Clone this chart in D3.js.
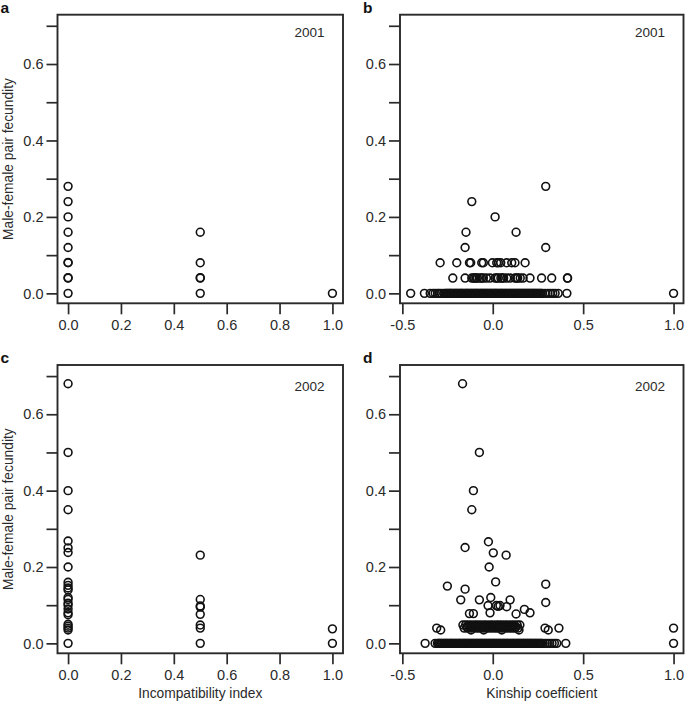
<!DOCTYPE html>
<html><head><meta charset="utf-8">
<script src="https://cdn.jsdelivr.net/npm/d3@7"></script>
<style>body{margin:0;background:#fff}svg{display:block;font-family:"Liberation Sans",Arial,sans-serif}</style>
</head><body>
<svg id="chart" width="685" height="704"></svg>
<script>
// ---------- data ----------
const yTicks = [0, 0.1, 0.2, 0.3, 0.4, 0.5, 0.6, 0.7];
const yTickLabels = [0, 0.2, 0.4, 0.6];
const incompTicks = [0, 0.2, 0.4, 0.6, 0.8, 1.0];
const kinTicks = [-0.5, 0, 0.5, 1.0];
const panelLetters = ["a", "b", "c", "d"];
const years = ["2001", "2001", "2002", "2002"];
const xTitles = ["Incompatibility index", "Kinship coefficient"];
const yTitle = "Male-female pair fecundity";

// Panel a: 2001, incompatibility index
const incomp2001 = [0, 0, 0, 0, 0, 0, 0, 0, 0, 0, 0.5, 0.5, 0.5, 0.5, 0.5, 1.0];
const fecA2001   = [0.28, 0.24, 0.20, 0.16, 0.12, 0.08, 0.081, 0.04, 0.041, 0, 0.16, 0.08, 0.04, 0.041, 0, 0];

// Panel c: 2002, incompatibility index
const incomp2002 = [0,0,0,0,0,0,0,0,0,0,0,0,0,0,0,0,0,0,0,0,0,0,0,0, 0.5,0.5,0.5,0.5,0.5,0.5,0.5,0.5, 1.0,1.0];
const fecC2002   = [0.68,0.50,0.40,0.35,0.268,0.25,0.238,0.20,0.16,0.152,0.145,0.14,0.12,0.115,0.105,0.10,0.09,0.08,0.075,0.05,0.045,0.04,0.035,0,
                    0.231,0.115,0.098,0.095,0.076,0.048,0.04,0,
                    0.038,0];

// Panel b: 2001, kinship coefficient, grouped by fecundity level
const fecLevels2001 = [0.28, 0.24, 0.20, 0.16, 0.12, 0.08, 0.04, 0.0, 0.0];
const kin2001ByLevel = [
  [0.293],
  [-0.116],
  [0.013],
  [-0.148, 0.129],
  [-0.153, 0.293],
  [-0.291, -0.199, -0.129, -0.122, -0.061, -0.052, -0.002, 0.022, 0.031, 0.044, 0.077, 0.105, 0.123, 0.179],
  [-0.221, -0.153, -0.116, -0.106, -0.1, -0.092, -0.085, -0.07, -0.062, -0.052, -0.035, -0.015, 0.013, 0.022, 0.03,
   0.045, 0.052, 0.06, 0.078, 0.096, 0.123, 0.132, 0.138, 0.152, 0.168, 0.206, 0.27, 0.326, 0.413, 0.414],
  [-0.454, -0.378, -0.346, -0.33, -0.318, -0.305, -0.296, -0.284, -0.27, -0.262, -0.25, -0.238, -0.229, -0.215,
   -0.204, -0.193, -0.18, -0.171, -0.158, -0.146, -0.137, -0.124, -0.113, -0.1, -0.09, -0.079, -0.066, -0.057,
   -0.045, -0.033, -0.022, -0.011, 0.0, 0.012, 0.021, 0.034, 0.045, 0.056, 0.068, 0.079, 0.091, 0.1, 0.113,
   0.124, 0.136, 0.147, 0.158, 0.17, 0.181, 0.193, 0.204, 0.216, 0.227, 0.238, 0.25, 0.262, 0.275, 0.29,
   0.305, 0.318, 0.332, 0.345, 0.362, 0.41, 1.0],
  [-0.256, -0.244, -0.233, -0.222, -0.21, -0.198, -0.186, -0.175, -0.164, -0.152, -0.141, -0.13, -0.118, -0.107,
   -0.095, -0.084, -0.072, -0.061, -0.05, -0.039, -0.028, -0.016, -0.005, 0.006, 0.017, 0.028, 0.04, 0.05,
   0.062, 0.073, 0.085, 0.096, 0.107, 0.118, 0.13, 0.141, 0.152, 0.164, 0.175, 0.187, 0.198, 0.21, 0.221,
   0.232, 0.244, 0.256, 0.268]
];

// Panel d: 2002, kinship coefficient (isolated points)
const kin2002 = [-0.167, -0.074, -0.107, -0.116, -0.024, -0.153, 0.003, 0.074, -0.02, 0.016, -0.251, 0.293, -0.153,
                 -0.177, -0.074, -0.011, 0.096, 0.293, -0.026, 0.02, 0.03, 0.04, 0.077, 0.175, 0.206, 0.129, -0.015,
                 -0.129, -0.107];
const fecD2002 = [0.68, 0.50, 0.40, 0.35, 0.266, 0.251, 0.237, 0.231, 0.20, 0.161, 0.15, 0.155, 0.142,
                  0.114, 0.114, 0.12, 0.114, 0.107, 0.099, 0.099, 0.097, 0.099, 0.096, 0.089, 0.08, 0.077, 0.08,
                  0.078, 0.078];
// Panel d: dense rows near the bottom, grouped by fecundity level
const fecLevels2002 = [0.048, 0.044, 0.04, 0.035, 0.0, 0.0];
const kin2002ByLevel = [
  [-0.165, -0.15, -0.135, -0.118, -0.1, -0.085, -0.068, -0.05, -0.034, -0.016, 0.0, 0.018, 0.034, 0.05, 0.068,
   0.085, 0.102, 0.118, 0.135, 0.15],
  [-0.142, -0.126, -0.11, -0.093, -0.077, -0.06, -0.043, -0.026, -0.008, 0.008, 0.026, 0.042, 0.059, 0.077,
   0.093, 0.11, 0.126],
  [-0.31, -0.158, -0.14, -0.125, -0.108, -0.09, -0.075, -0.058, -0.04, -0.025, -0.008, 0.01, 0.026, 0.042,
   0.058, 0.075, 0.092, 0.108, 0.124, 0.14, 0.289, 0.366, 1.0],
  [-0.288, -0.12, -0.05, 0.05, 0.145, 0.307],
  [-0.374, -0.319, -0.306, -0.295, -0.283, -0.27, -0.26, -0.249, -0.236, -0.226, -0.214, -0.203, -0.19, -0.181,
   -0.168, -0.157, -0.146, -0.134, -0.123, -0.111, -0.1, -0.088, -0.077, -0.066, -0.055, -0.043, -0.032, -0.02,
   -0.009, 0.003, 0.014, 0.025, 0.037, 0.048, 0.06, 0.071, 0.082, 0.094, 0.105, 0.116, 0.128, 0.139, 0.15,
   0.162, 0.173, 0.184, 0.196, 0.207, 0.218, 0.23, 0.241, 0.253, 0.265, 0.278, 0.29, 0.302, 0.315, 0.328,
   0.341, 0.354, 0.404, 1.0],
  [-0.3, -0.289, -0.277, -0.265, -0.254, -0.242, -0.231, -0.22, -0.208, -0.197, -0.185, -0.174, -0.162, -0.151,
   -0.14, -0.129, -0.117, -0.106, -0.094, -0.083, -0.071, -0.06, -0.049, -0.038, -0.026, -0.015, -0.003, 0.008,
   0.02, 0.031, 0.042, 0.054, 0.065, 0.077, 0.088, 0.1, 0.111, 0.122, 0.134, 0.145, 0.156, 0.168, 0.179,
   0.19, 0.202, 0.213, 0.224, 0.236, 0.247, 0.259, 0.27]
];

// ---------- build point lists ----------
function zipPts(xs, ys) { return xs.map((x, i) => ({x, y: ys[i]})); }
function levelPts(levels, groups) {
  const out = [];
  groups.forEach((g, i) => g.forEach(x => out.push({x, y: levels[i]})));
  return out;
}
const panels = [
  {pts: zipPts(incomp2001, fecA2001), kind: "inc", row: 0, col: 0},
  {pts: levelPts(fecLevels2001, kin2001ByLevel), kind: "kin", row: 0, col: 1},
  {pts: zipPts(incomp2002, fecC2002), kind: "inc", row: 1, col: 0},
  {pts: zipPts(kin2002, fecD2002).concat(levelPts(fecLevels2002, kin2002ByLevel)), kind: "kin", row: 1, col: 1}
];

// ---------- layout ----------
const colX = [[57.5, 343], [400, 683.5]];
const rowY = [[14.7, 303.3], [365, 653.3]];
const yearBase = [36.5, 391];
const ink = "#2a2a2a";
const font = "Liberation Sans, Arial, sans-serif";
const svg = d3.select("#chart");

panels.forEach((p, i) => {
  const [x0, x1] = colX[p.col];
  const [y0, y1] = rowY[p.row];
  const x = p.kind === "inc"
    ? d3.scaleLinear().domain([-0.04, 1.04]).range([x0, x1])
    : d3.scaleLinear().domain([-0.513, 1.055]).range([x0, x1]);
  const y = d3.scaleLinear().domain([-0.026, 0.729]).range([y1, y0]);
  const g = svg.append("g");

  // y axis
  const ya = d3.axisLeft(y).tickValues(yTicks).tickSize(11).tickPadding(3)
    .tickFormat(d => yTickLabels.some(v => Math.abs(v - d) < 1e-9) ? d3.format(".1f")(d) : "");
  const yg = g.append("g").attr("transform", `translate(${x0},0)`).call(ya);
  yg.select(".domain").remove();
  yg.selectAll("line").attr("stroke", ink).attr("stroke-width", 1.7);
  yg.selectAll("text").attr("fill", ink).style("font-size", "14.5px").style("font-family", font);

  // x axis
  const xa = d3.axisBottom(x).tickValues(p.kind === "inc" ? incompTicks : kinTicks).tickSize(11).tickPadding(5)
    .tickFormat(d3.format(".1f"));
  const xg = g.append("g").attr("transform", `translate(0,${y1})`).call(xa);
  xg.select(".domain").remove();
  xg.selectAll("line").attr("stroke", ink).attr("stroke-width", 1.7);
  xg.selectAll("text").attr("fill", ink).style("font-size", "14.5px").style("font-family", font)
    .text(d => d < 0 ? "-" + d3.format(".1f")(-d) : d3.format(".1f")(d));

  // box
  g.append("rect").attr("x", x0).attr("y", y0).attr("width", x1 - x0).attr("height", y1 - y0)
    .attr("fill", "none").attr("stroke", ink).attr("stroke-width", 1.9);

  // points
  g.append("g").selectAll("circle").data(p.pts).join("circle")
    .attr("cx", d => x(d.x)).attr("cy", d => y(d.y)).attr("r", 3.9)
    .attr("fill", "none").attr("stroke", "#111").attr("stroke-width", 1.6);

  // year label
  g.append("text").attr("x", x1 - 18.5).attr("y", yearBase[p.row]).attr("text-anchor", "end")
    .attr("fill", ink).style("font-size", "13.5px").text(years[i]);

  // panel letter
  g.append("text").attr("x", p.col === 0 ? 0.5 : 363).attr("y", p.row === 0 ? 13 : 362.5)
    .attr("fill", "#111").style("font-size", "15.5px").style("font-weight", "bold").text(panelLetters[i]);

  // y title
  if (p.col === 0) {
    g.append("text").attr("transform", `translate(13,${(y0 + y1) / 2}) rotate(-90)`)
      .attr("text-anchor", "middle").attr("fill", ink).style("font-size", "13.8px").text(yTitle);
  }
  // x title
  if (p.row === 1) {
    g.append("text").attr("x", (x0 + x1) / 2).attr("y", 698).attr("text-anchor", "middle")
      .attr("fill", ink).style("font-size", "13.8px").text(xTitles[p.col]);
  }
});
</script>
</body></html>
